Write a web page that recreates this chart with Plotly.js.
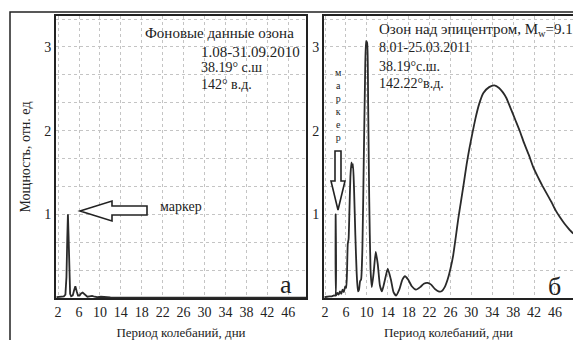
<!DOCTYPE html>
<html>
<head>
<meta charset="utf-8">
<script src="https://cdn.plot.ly/plotly-3.0.1.min.js"></script>
<style>
  html, body { margin: 0; padding: 0; background: #fff; }
  #chart { width: 573px; height: 340px; }
</style>
</head>
<body>
<div id="chart"></div>
<script>
// Power spectra of ozone series: background period (а) and over the epicentre (б)
const periodA = [1.7, 2.2, 2.7, 3.1, 3.4, 3.6, 3.75, 3.88, 4.0, 4.15, 4.3, 4.5, 4.8, 5.05, 5.3, 5.55, 5.8, 6.1, 6.4, 6.7, 7.0, 7.3, 7.6, 8.0, 8.5, 9.0, 9.5, 10.2, 11, 12, 14, 18, 22, 26, 30, 34, 38, 42, 46, 49.4];
const powerA  = [0.01, 0.012, 0.01, 0.02, 0.04, 0.25, 0.7, 1.0, 0.75, 0.3, 0.05, 0.02, 0.03, 0.09, 0.14, 0.08, 0.03, 0.03, 0.055, 0.065, 0.05, 0.025, 0.015, 0.02, 0.025, 0.015, 0.01, 0.015, 0.01, 0.006, 0.004, 0.005, 0.004, 0.005, 0.004, 0.004, 0.004, 0.003, 0.003, 0.003];

const periodB = [1.9, 2.4, 2.9, 3.3, 3.7, 3.97, 4.03, 4.1, 4.35, 4.6, 4.85, 5.1, 5.35, 5.6, 5.85, 6.05, 6.2, 6.35, 6.5, 6.65, 6.85, 7.05, 7.2, 7.35, 7.55, 7.8, 8.05, 8.3, 8.5, 8.7, 8.9, 9.15, 9.4, 9.65, 9.85, 10.05, 10.25, 10.45, 10.7, 10.95, 11.3, 11.7, 12.1, 12.5, 12.9, 13.4, 14.0, 14.6, 15.1, 15.6, 16.2, 16.8, 17.3, 17.9, 18.6, 19.4, 20.2, 20.9, 21.6, 22.3, 23.0, 23.7, 24.3, 24.9, 25.5, 26.0, 26.5, 27.0, 27.5, 28.0, 28.5, 29.1, 29.6, 30.2, 30.8, 31.5, 32.3, 33.4, 34.4, 35.3, 36.0, 36.7, 37.5, 38.4, 39.3, 40.1, 41.0, 41.8, 42.7, 43.6, 44.4, 45.3, 46.1, 46.9, 47.8, 48.6, 49.5];
const powerB  = [0.01, 0.015, 0.02, 0.02, 0.03, 0.03, 1.0, 0.03, 0.06, 0.04, 0.08, 0.05, 0.1, 0.07, 0.14, 0.12, 0.3, 0.65, 0.7, 1.0, 1.45, 1.62, 1.56, 1.6, 1.3, 0.75, 0.3, 0.08, 0.1, 0.2, 0.22, 0.6, 1.6, 2.6, 3.07, 3.05, 2.3, 1.2, 0.35, 0.13, 0.3, 0.55, 0.4, 0.15, 0.08, 0.2, 0.35, 0.22, 0.07, 0.03, 0.1, 0.22, 0.26, 0.22, 0.14, 0.10, 0.13, 0.17, 0.18, 0.16, 0.11, 0.08, 0.08, 0.13, 0.23, 0.35, 0.5, 0.72, 0.95, 1.15, 1.35, 1.6, 1.78, 1.97, 2.15, 2.32, 2.45, 2.52, 2.54, 2.51, 2.46, 2.39, 2.27, 2.13, 1.99, 1.85, 1.71, 1.57, 1.45, 1.34, 1.25, 1.15, 1.05, 0.97, 0.89, 0.83, 0.77];

const periodTicks = [2, 6, 10, 14, 18, 22, 26, 30, 34, 38, 42, 46];
const powerTicks = [1, 2, 3];

const W = 573, H = 340;
const px = v => v / W;
const py = v => 1 - v / H;
const serif = '"Liberation Serif", "DejaVu Serif", serif';
const ink = '#222';
const gridCol = '#c4c4c4';

function pathFrom(pts) {
  return 'M ' + pts.map(p => px(p[0]).toFixed(5) + ',' + py(p[1]).toFixed(5)).join(' L ') + ' Z';
}

const lineStyle = { color: '#2a2a2a', width: 1.8 };

const traces = [
  { x: periodA, y: powerA, type: 'scatter', mode: 'lines', line: Object.assign({ shape: 'linear' }, lineStyle), xaxis: 'x', yaxis: 'y', hoverinfo: 'skip' },
  { x: periodB, y: powerB, type: 'scatter', mode: 'lines', line: Object.assign({ shape: 'spline', smoothing: 0.5 }, lineStyle), xaxis: 'x2', yaxis: 'y2', hoverinfo: 'skip' }
];

const xCommon = {
  range: [1.6, 49.4],
  tickmode: 'array', tickvals: periodTicks, ticktext: periodTicks.map(String),
  ticks: '', showline: true, linecolor: ink, linewidth: 2,
  showgrid: true, gridcolor: gridCol, griddash: 'dot', gridwidth: 1,
  zeroline: false,
  tickfont: { family: serif, size: 14, color: ink },
  title: { text: 'Период колебаний, дни', font: { family: serif, size: 13, color: ink }, standoff: 9 }
};
const yCommon = {
  range: [0, 3.37],
  tickmode: 'array', tickvals: powerTicks, ticktext: powerTicks.map(String),
  ticks: '', showline: true, linecolor: ink, linewidth: 2,
  showgrid: true, gridcolor: gridCol, griddash: 'dot', gridwidth: 1,
  minor: { dtick: 1 / 3, tick0: 0, showgrid: true, gridcolor: gridCol, griddash: 'dot', gridwidth: 1, ticks: '' },
  zeroline: false,
  tickfont: { family: serif, size: 14, color: ink }
};

const layout = {
  width: W, height: H,
  margin: { l: 0, r: 0, t: 0, b: 0 },
  paper_bgcolor: '#fff', plot_bgcolor: '#fff',
  showlegend: false,
  xaxis: Object.assign({}, xCommon, { domain: [px(56), px(306)], anchor: 'y', mirror: true }),
  yaxis: Object.assign({}, yCommon, { domain: [py(298), py(16)], anchor: 'x', mirror: true,
    title: { text: 'Мощность, отн. ед', font: { family: serif, size: 14, color: ink }, standoff: 10 } }),
  xaxis2: Object.assign({}, xCommon, { domain: [px(324), 1], anchor: 'y2', mirror: true, range: [1.8, 49.45] }),
  yaxis2: Object.assign({}, yCommon, { domain: [py(298), py(16)], anchor: 'x2', mirror: false }),
  shapes: [
    { type: 'rect', xref: 'paper', yref: 'paper', x0: px(10), y0: py(12), x1: px(600), y1: py(380), line: { color: ink, width: 1.5 }, layer: 'below' },
    { type: 'path', xref: 'paper', yref: 'paper', path: pathFrom([[80, 211], [112, 201], [112, 206], [147, 206], [147, 215], [112, 215], [112, 221]]), line: { color: ink, width: 1.6 }, fillcolor: '#fff' },
    { type: 'path', xref: 'paper', yref: 'paper', path: pathFrom([[335, 151], [341, 151], [341, 181], [345, 181], [338, 210], [331, 181], [335, 181]]), line: { color: ink, width: 1.6 }, fillcolor: '#fff' }
  ],
  annotations: [
    { text: 'Фоновые данные озона', x: px(143), y: py(33), size: 15 },
    { text: '1.08-31.09.2010', x: px(199), y: py(52), size: 15 },
    { text: '38.19° с.ш', x: px(199), y: py(68), size: 14 },
    { text: '142° в.д.', x: px(199), y: py(84), size: 14 },
    { text: 'маркер', x: px(158), y: py(207), size: 14 },
    { text: 'а', x: px(278), y: py(284), size: 26 },
    { text: 'Озон над эпицентром, M<sub>w</sub>=9.1', x: px(377), y: py(30), size: 15 },
    { text: '8.01-25.03.2011', x: px(377), y: py(48), size: 14 },
    { text: '38.19°с.ш.', x: px(377), y: py(67), size: 14 },
    { text: '142.22°в.д.', x: px(377), y: py(83), size: 14 },
    { text: 'м<br>а<br>р<br>к<br>е<br>р', x: px(338), y: py(105), size: 10, xanchor: 'center' },
    { text: 'б', x: px(546), y: py(286), size: 26 }
  ].map(a => ({
    text: a.text, x: a.x, y: a.y, xref: 'paper', yref: 'paper',
    xanchor: a.xanchor || 'left', yanchor: 'middle', showarrow: false,
    font: { family: serif, size: a.size, color: ink }
  }))
};

Plotly.newPlot('chart', traces, layout, { staticPlot: true, displayModeBar: false });
</script>
</body>
</html>
